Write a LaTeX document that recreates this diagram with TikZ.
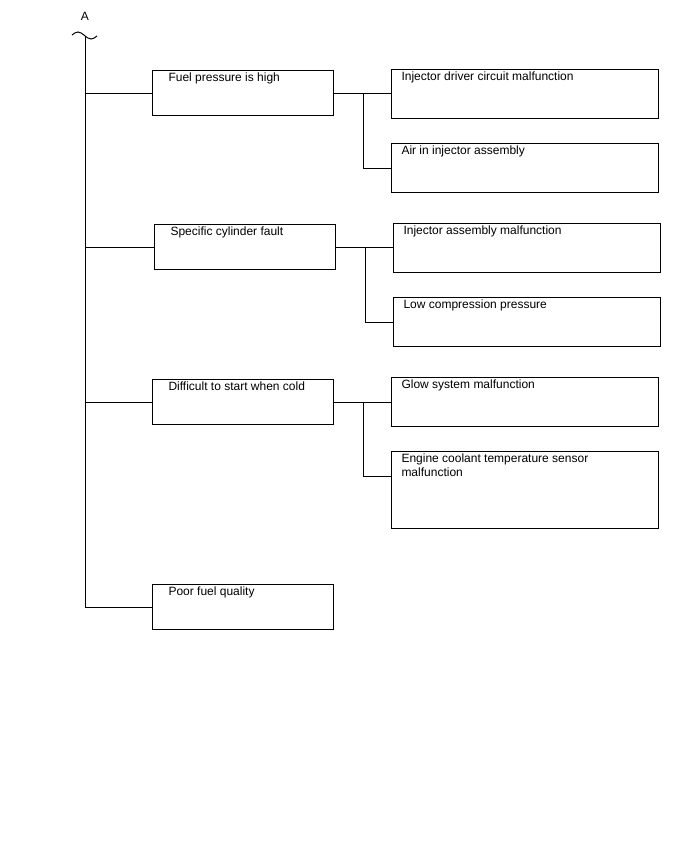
\documentclass[tikz,border=0pt]{standalone}
\usepackage{fontspec}
\setmainfont{Liberation Sans}
\begin{document}
\begin{tikzpicture}[
    x=1pt, y=-1pt, line width=1pt,
    cause/.style={rectangle, draw, anchor=north west, minimum width=181pt, minimum height=45pt, inner sep=0pt},
    reason/.style={rectangle, draw, anchor=north west, minimum width=267pt, minimum height=49pt, inner sep=0pt},
    ctext/.style={anchor=north west, inner sep=0pt, xshift=16pt, yshift=-2pt, font=\fontsize{12}{14}\selectfont},
    rtext/.style={anchor=north west, inner sep=0pt, xshift=10pt, yshift=-2pt, align=left, font=\fontsize{12}{14}\selectfont}
]
\useasboundingbox (0,0) rectangle (688,852);
\node[font=\fontsize{12}{14}\selectfont] (a) at (85,16) {A};
\draw (72,35) sin (78,32) cos (84.5,35.5) sin (91,39) cos (97,36);
\coordinate (top) at (85,36);

\node[cause, label={[ctext]north west:Fuel pressure is high}] (fuel) at (152,70) {};
\node[reason, label={[rtext]north west:Injector driver circuit malfunction}] (drv) at (391,69) {};
\node[reason, label={[rtext]north west:Air in injector assembly}] (air) at (391,143) {};

\node[cause, label={[ctext]north west:Specific cylinder fault}] (cyl) at (154,224) {};
\node[reason, label={[rtext]north west:Injector assembly malfunction}] (inj) at (393,223) {};
\node[reason, label={[rtext]north west:Low compression pressure}] (comp) at (393,297) {};

\node[cause, label={[ctext]north west:Difficult to start when cold}] (cold) at (152,379) {};
\node[reason, label={[rtext]north west:Glow system malfunction}] (glow) at (391,377) {};
\node[reason, minimum height=77pt, label={[rtext]north west:Engine coolant temperature sensor\\malfunction}] (ect) at (391,451) {};
\coordinate (ectin) at ([yshift=-25pt]ect.north west);

\node[cause, label={[ctext]north west:Poor fuel quality}] (poor) at (152,584) {};

\draw (top) |- (poor.west);
\draw (fuel.west) -- (fuel.west -| top);
\draw (cyl.west) -- (cyl.west -| top);
\draw (cold.west) -- (cold.west -| top);

\draw (fuel.east) -- (fuel.east -| drv.west);
\draw ([xshift=29pt]fuel.east) |- (air.west);
\draw (cyl.east) -- (cyl.east -| inj.west);
\draw ([xshift=29pt]cyl.east) |- (comp.west);
\draw (cold.east) -- (cold.east -| glow.west);
\draw ([xshift=29pt]cold.east) |- (ectin);
\end{tikzpicture}
\end{document}
